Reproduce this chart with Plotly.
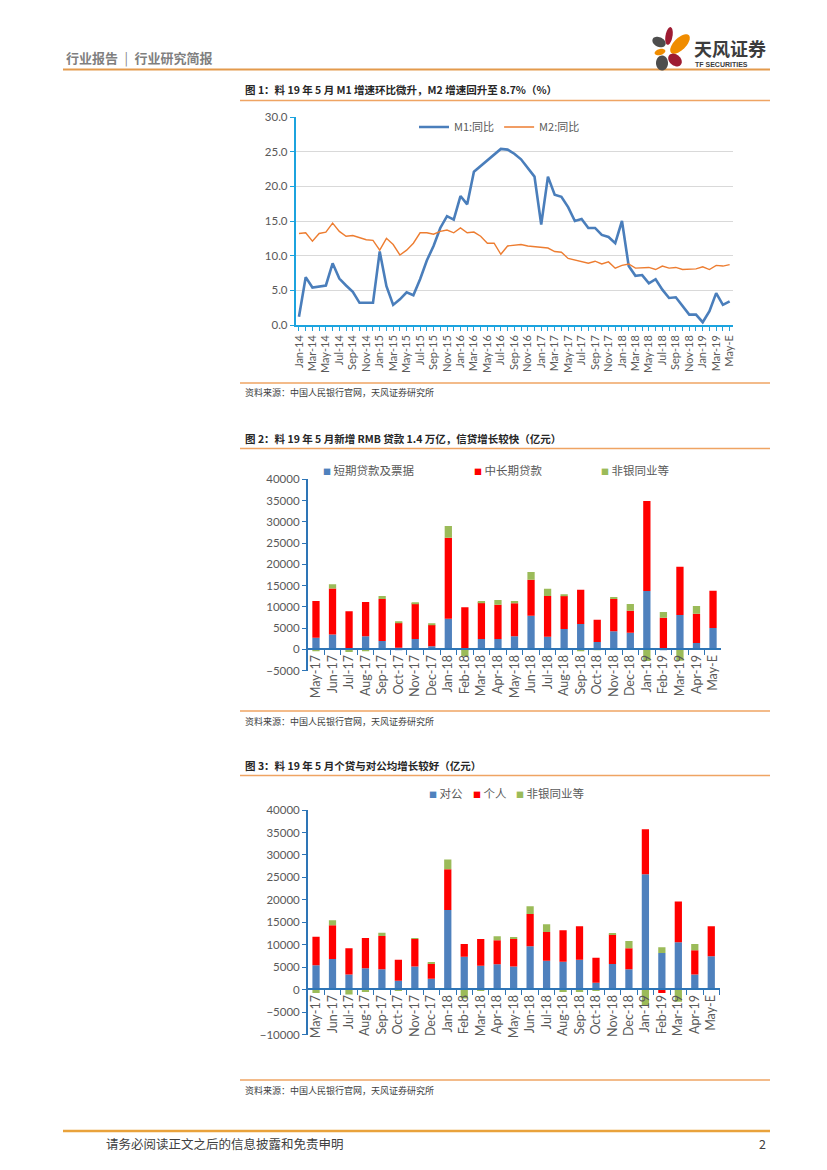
import numpy as np
import pandas as pd
import plotly.graph_objects as go

W, H = 827, 1170
OFF = 8  # the page body adds an 8px margin around the plot div
CJK = "Noto Sans CJK SC"
NUM = "Lato"
GRAY = "#595959"


def px(x):
    return (x - OFF) / W


def py(y):
    return 1 - (y - OFF) / H


# ---- chart 1 data: M1 / M2 yoy (%) ----
months1 = [d.strftime("%b-%y") for d in pd.date_range("2014-01-01", "2019-04-01", freq="MS")] + ["May-E"]
m1 = [1.2, 6.9, 5.4, 5.5, 5.7, 8.9, 6.7, 5.7, 4.8, 3.2, 3.2, 3.2,
      10.6, 5.6, 2.9, 3.7, 4.7, 4.3, 6.6, 9.3, 11.4, 14.0, 15.7, 15.2,
      18.6, 17.4, 22.1, 22.9, 23.7, 24.6, 25.4, 25.3, 24.7, 23.9, 22.7, 21.4,
      14.5, 21.4, 18.8, 18.5, 17.0, 15.0, 15.3, 14.0, 14.0, 13.0, 12.7, 11.8,
      15.0, 8.5, 7.1, 7.2, 6.0, 6.6, 5.1, 3.9, 4.0, 2.7, 1.5, 1.5,
      0.4, 2.0, 4.6, 2.9, 3.4]
m2 = [13.2, 13.3, 12.1, 13.2, 13.4, 14.7, 13.5, 12.8, 12.9, 12.6, 12.3, 12.2,
      10.8, 12.5, 11.6, 10.1, 10.8, 11.8, 13.3, 13.3, 13.1, 13.5, 13.7, 13.3,
      14.0, 13.3, 13.4, 12.8, 11.8, 11.8, 10.2, 11.4, 11.5, 11.6, 11.4, 11.3,
      11.3, 11.1, 10.6, 10.5, 9.6, 9.4, 9.2, 8.9, 9.2, 8.8, 9.1, 8.2,
      8.6, 8.8, 8.2, 8.3, 8.3, 8.0, 8.5, 8.2, 8.3, 8.0, 8.0, 8.1,
      8.4, 8.0, 8.6, 8.5, 8.7]
ticktext1 = [m if i % 2 == 0 else "" for i, m in enumerate(months1)]

# ---- chart 2 / 3 data (亿元) ----
months2 = [d.strftime("%b-%y") for d in pd.date_range("2017-05-01", "2019-04-01", freq="MS")] + ["May-E"]
short_loans = [2750, 3500, 300, 3060, 1960, 400, 2430, 700, 7220, 300, 2430, 2430,
               3060, 7920, 2980, 4780, 5960, 1730, 4240, 3920, 13730, 200, 8080, 1490, 5020]
long_loans = [8650, 10800, 8640, 8080, 9880, 5870, 8390, 5030, 19050, 9580, 8630, 8080,
              7760, 8470, 9570, 7770, 8080, 5250, 7600, 5180, 21170, 7250, 11370, 6900, 8780]
nonbank2 = [-300, 1000, -600, -300, 710, 160, 240, 230, 2750, -1600, 310, 1100,
            550, 1810, 1720, 230, -300, -200, 470, 1570, -2750, 1330, -2670, 1810, 0]

corp = [5430, 6840, 3420, 4760, 4540, 2010, 5200, 2450, 17770, 7360, 5350, 5650,
        5200, 9670, 6470, 6250, 6690, 1560, 5720, 4540, 25720, 8180, 10560, 3420, 7430]
personal = [6390, 7510, 5800, 6760, 7430, 4680, 6100, 3350, 9070, 2830, 5950, 5350,
            6100, 7210, 6390, 6980, 7440, 5580, 6550, 4680, 9970, -740, 9070, 5350, 6700]
nonbank3 = [-740, 1110, -1040, -500, 740, -200, 150, 300, 2160, -1930, -200, 900,
            370, 1710, 1710, -520, -500, -200, 220, 1640, -3570, 1260, -2680, 1420, 0]

names2 = ["短期贷款及票据", "中长期贷款", "非银同业等"]
names3 = ["对公", "个人", "非银同业等"]
bar_colors = ["#4F81BD", "#FF0000", "#9BBB59"]

fig = go.Figure()

# chart 1 lines
fig.add_trace(go.Scatter(x=months1, y=m1, name="M1:同比", mode="lines",
                         line=dict(color="#4A7EBB", width=2.6), xaxis="x", yaxis="y"))
fig.add_trace(go.Scatter(x=months1, y=m2, name="M2:同比", mode="lines",
                         line=dict(color="#ED7D31", width=1.4), xaxis="x", yaxis="y"))

# chart 2 bars
for name, vals, c in zip(names2, [short_loans, long_loans, nonbank2], bar_colors):
    fig.add_trace(go.Bar(x=months2, y=vals, name=name, marker_color=c, marker_line_width=0,
                         showlegend=False, xaxis="x2", yaxis="y2"))
# chart 3 bars
for name, vals, c in zip(names3, [corp, personal, nonbank3], bar_colors):
    fig.add_trace(go.Bar(x=months2, y=vals, name=name, marker_color=c, marker_line_width=0,
                         showlegend=False, xaxis="x3", yaxis="y3"))

tickfont = dict(family=NUM, size=11.5, color=GRAY)
cyan = "#1CA3DE"
blue = "#2E75B6"

fig.update_layout(
    width=W, height=H, margin=dict(l=0, r=0, t=0, b=0, pad=0, autoexpand=False),
    paper_bgcolor="white", plot_bgcolor="white",
    barmode="relative", bargap=0.56,
    showlegend=True,
    legend=dict(orientation="h", x=px(414), y=py(127), xanchor="left", yanchor="middle",
                font=dict(family=CJK, size=11, color=GRAY), bgcolor="rgba(0,0,0,0)"),
    xaxis=dict(domain=[px(295.6), px(733)], type="category", range=[-0.5, 64.5],
               tickmode="array", tickvals=months1, ticktext=ticktext1, tickangle=-90,
               ticks="outside", ticklen=4, tickcolor=cyan, showline=True, linecolor=cyan,
               linewidth=1.5, showgrid=False, anchor="y", automargin=False,
               tickfont=dict(family=NUM, size=11, color=GRAY)),
    yaxis=dict(domain=[py(325), py(117)], range=[0, 30], dtick=5, tickformat=".1f",
               showgrid=True, gridcolor="#D9D9D9", gridwidth=1, showline=True, linecolor=cyan,
               linewidth=1.5, ticks="outside", ticklen=4, tickcolor=cyan, zeroline=False,
               anchor="x", automargin=False, tickfont=tickfont),
    xaxis2=dict(domain=[px(307.7), px(721.3)], type="category", range=[-0.5, 24.5],
                anchor="free", position=py(649.3), showline=True, linecolor=blue, linewidth=1.5,
                ticks="outside", tickson="boundaries", ticklen=5, tickcolor=blue, automargin=False,
                tickangle=-90, showgrid=False, tickfont=dict(family=NUM, size=12.5, color=GRAY)),
    yaxis2=dict(domain=[py(670.6), py(479.3)], range=[-5000, 40000], dtick=5000, tickformat="d",
                showgrid=False, zeroline=False, showline=True, linecolor=blue, linewidth=1.5,
                ticks="outside", ticklen=4, tickcolor=blue, anchor="x2", automargin=False,
                tickfont=tickfont),
    xaxis3=dict(domain=[px(307.8), px(719.5)], type="category", range=[-0.5, 24.5],
                anchor="free", position=py(989.3), showline=True, linecolor=blue, linewidth=1.5,
                ticks="outside", tickson="boundaries", ticklen=5, tickcolor=blue, automargin=False,
                tickangle=-90, showgrid=False, tickfont=dict(family=NUM, size=12.5, color=GRAY)),
    yaxis3=dict(domain=[py(1034.7), py(810)], range=[-10000, 40000], dtick=5000, tickformat="d",
                showgrid=False, zeroline=False, showline=True, linecolor=blue, linewidth=1.5,
                ticks="outside", ticklen=4, tickcolor=blue, anchor="x3", automargin=False,
                tickfont=tickfont),
)


def text(x, y, s, size, color, xanchor="left", family=CJK):
    fig.add_annotation(x=px(x), y=py(y), xref="paper", yref="paper", text=s, showarrow=False,
                       xanchor=xanchor, yanchor="middle", font=dict(family=family, size=size, color=color))


def hline(x0, x1, y, color, width):
    fig.add_shape(type="line", xref="paper", yref="paper", x0=px(x0), x1=px(x1),
                  y0=py(y), y1=py(y), line=dict(color=color, width=width))


# header / footer
text(64, 58, "<b>行业报告</b>\u2002|\u2002<b>行业研究简报</b>", 13, "#7F7F7F")
hline(63, 770, 69.5, "#E39A4C", 2.2)
hline(63, 770, 1131, "#E9A23B", 2.6)
text(104, 1143, "请务必阅读正文之后的信息披露和免责申明", 12.5, "#404040")
text(768, 1143, "2", 12.5, "#404040", xanchor="right")


# logo petals
def petal(cx, cy, rx, ry, ang, color):
    t = np.linspace(0, 2 * np.pi, 40)
    a = np.deg2rad(ang)
    xs = cx + rx * np.cos(t) * np.cos(a) - ry * np.sin(t) * np.sin(a)
    ys = cy + rx * np.cos(t) * np.sin(a) + ry * np.sin(t) * np.cos(a)
    path = "M " + " L ".join(f"{px(x):.5f},{py(y):.5f}" for x, y in zip(xs, ys)) + " Z"
    fig.add_shape(type="path", xref="paper", yref="paper", path=path,
                  fillcolor=color, line=dict(width=0))


petal(669, 36, 3.5, 9, 10, "#9E1B32")
petal(680, 44, 6, 12.5, 45, "#F08C00")
petal(659, 42, 7, 4.8, 25, "#4D4D4D")
petal(660, 52, 5.5, 3, -15, "#F08C00")
petal(675, 60, 7.5, 5.5, 40, "#9E1B32")
petal(662, 63, 6, 7.5, 0, "#4D4D4D")
text(692, 48, "<b>天风证券</b>", 18, "#3C3C3C")
text(693, 64, "<b>TF SECURITIES</b>", 7, "#3C3C3C", family="Liberation Sans")

# figure titles, rules and sources
titles = ["<b>图 1：料 19 年 5 月 M1 增速环比微升，M2 增速回升至 8.7%（%）</b>",
          "<b>图 2：料 19 年 5 月新增 RMB 贷款 1.4 万亿，信贷增长较快（亿元）</b>",
          "<b>图 3：料 19 年 5 月个贷与对公均增长较好（亿元）</b>"]
title_y = [90, 438, 765]
source_y = [393, 721, 1090]
src = "资料来源：中国人民银行官网，天风证券研究所"
for t, ty, sy in zip(titles, title_y, source_y):
    text(243, ty, t, 10.5, "#262626")
    hline(240, 770, ty + 10.5, "#EFA463", 1.6)
    hline(240, 770, sy - 10, "#EFA463", 1.6)
    text(243, sy, src, 9, "#404040")

# bar chart legends
for names, xs, ly in [(names2, [321, 472, 599], 470), (names3, [427, 471, 514], 793)]:
    for name, c, lx in zip(names, bar_colors, xs):
        text(lx, ly, f"<span style='color:{c};font-size:8px'>■</span> {name}", 11.5, GRAY)

fig.write_html("out.html")
